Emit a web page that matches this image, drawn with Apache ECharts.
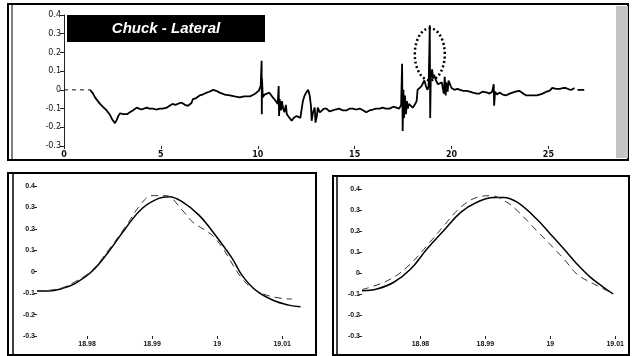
<!DOCTYPE html>
<html>
<head>
<meta charset="utf-8">
<script src="https://cdn.jsdelivr.net/npm/echarts@6/dist/echarts.min.js"></script>
<style>
  html, body { margin: 0; padding: 0; background: #fff; }
  #main { width: 633px; height: 356px; }
</style>
</head>
<body>
<div id="main"></div>
<script>
// top trace: chuck lateral, time (s) vs value
var leadT = [0, 1.35];
var leadV = [0, 0];
var latT = [1.35,1.5,1.6,1.75,1.86,2.0,2.2,2.35,2.5,2.63,2.72,2.8,2.9,2.97,3.05,3.14,3.25,3.4,3.55,3.65,3.75,3.88,4.0,4.1,4.27,4.4,4.6,4.75,4.95,5.1,5.3,5.45,5.6,5.75,5.98,6.1,6.24,6.4,6.5,6.58,6.65,6.8,7.0,7.15,7.37,7.5,7.7,7.85,8.04,8.3,8.56,8.8,9.07,9.3,9.6,9.8,9.93,10.05,10.15,10.2,10.21,10.22,10.26,10.35,10.45,10.6,10.77,10.9,11.03,11.08,11.1,11.13,11.2,11.25,11.3,11.38,11.45,11.5,11.6,11.75,11.85,12.0,12.1,12.2,12.27,12.33,12.42,12.5,12.6,12.68,12.75,12.78,12.85,12.94,12.98,13.05,13.1,13.2,13.3,13.42,13.55,13.7,13.87,14.0,14.2,14.4,14.57,14.75,14.9,15.1,15.26,15.45,15.6,15.77,15.95,16.1,16.3,16.45,16.6,16.8,17.0,17.15,17.3,17.4,17.45,17.48,17.52,17.55,17.6,17.65,17.7,17.75,17.8,18.0,18.1,18.2,18.25,18.35,18.45,18.52,18.6,18.68,18.76,18.82,18.88,18.9,18.93,19.0,19.05,19.1,19.2,19.3,19.4,19.5,19.55,19.6,19.65,19.7,19.73,19.8,19.85,19.9,20.0,20.15,20.3,20.4,20.6,20.77,20.95,21.1,21.3,21.44,21.6,21.7,21.85,21.96,22.1,22.18,22.2,22.25,22.35,22.47,22.65,22.8,23.0,23.15,23.3,23.5,23.7,23.87,24.1,24.4,24.55,24.7,24.9,25.05,25.2,25.4,25.6,25.75,25.9,26.05,26.2,26.35,26.42,26.5,26.85];
var latV = [0,-0.02,-0.04,-0.06,-0.075,-0.09,-0.11,-0.13,-0.16,-0.178,-0.16,-0.14,-0.125,-0.12,-0.13,-0.14,-0.13,-0.12,-0.11,-0.1,-0.095,-0.1,-0.105,-0.095,-0.095,-0.1,-0.1,-0.105,-0.1,-0.1,-0.095,-0.085,-0.075,-0.08,-0.07,-0.07,-0.08,-0.085,-0.09,-0.07,-0.05,-0.045,-0.03,-0.025,-0.015,-0.01,0,-0.005,-0.015,-0.025,-0.03,-0.035,-0.04,-0.035,-0.035,-0.025,-0.015,-0.005,0.02,0.155,-0.13,0.06,-0.04,-0.025,-0.035,-0.015,-0.04,-0.055,-0.075,0.02,-0.14,-0.05,-0.11,-0.06,-0.095,-0.12,-0.08,-0.13,-0.14,-0.165,-0.15,-0.14,-0.135,-0.15,-0.1,-0.06,-0.03,-0.015,0,-0.03,-0.09,-0.165,-0.12,-0.095,-0.175,-0.14,-0.095,-0.12,-0.11,-0.1,-0.1,-0.115,-0.11,-0.105,-0.1,-0.11,-0.11,-0.1,-0.1,-0.105,-0.1,-0.11,-0.12,-0.11,-0.105,-0.1,-0.1,-0.095,-0.1,-0.1,-0.09,-0.095,-0.1,-0.08,0.14,-0.22,0,-0.15,-0.03,-0.13,-0.06,-0.1,-0.075,-0.095,-0.08,-0.06,0,0.01,0.02,0.03,0.05,0.02,0,0.02,0.345,-0.15,0.06,0.11,0.06,0.08,0.05,0.03,0.02,0.04,0.05,-0.02,0.07,-0.03,0.04,-0.01,0.05,0.04,0.01,0,0.005,0,-0.005,-0.005,-0.01,-0.015,-0.02,-0.02,-0.01,-0.005,-0.015,-0.02,-0.01,0.03,-0.085,-0.01,-0.025,-0.015,-0.025,-0.03,-0.02,-0.015,-0.01,-0.005,-0.02,-0.03,-0.03,-0.03,-0.025,-0.02,-0.01,-0.005,0.01,0.005,0.005,0.01,0.01,0.003,0,0.01,null,0,0];

// zoomed event, left panel
var leftSolidT = [18.9723,18.9741,18.9762,18.9782,18.9808,18.9833,18.9859,18.9885,18.9910,18.9926,18.9946,18.9972,18.9997,19.0023,19.0038,19.0059,19.0085,19.0110,19.0128];
var leftSolidV = [-0.090,-0.090,-0.078,-0.054,0.003,0.093,0.202,0.296,0.342,0.350,0.327,0.264,0.171,0.062,-0.016,-0.086,-0.132,-0.156,-0.163];
var leftDashT = [18.9723,18.9756,18.9782,18.9808,18.9833,18.9859,18.9885,18.9900,18.9921,18.9946,18.9962,18.9997,19.0038,19.0059,19.0085,19.0115];
var leftDashV = [-0.090,-0.080,-0.046,0.008,0.101,0.210,0.324,0.355,0.355,0.288,0.233,0.156,-0.031,-0.086,-0.117,-0.128];

// zoomed event, right panel
var rightSolidT = [18.9710,18.9733,18.9759,18.9785,18.9810,18.9836,18.9862,18.9887,18.9913,18.9928,18.9949,18.9979,19.0000,19.0021,19.0041,19.0062,19.0082,19.0097];
var rightSolidV = [-0.084,-0.076,-0.044,0.019,0.114,0.202,0.289,0.337,0.360,0.360,0.337,0.257,0.186,0.114,0.043,-0.021,-0.068,-0.100];
var rightDashT = [18.9710,18.9749,18.9779,18.9810,18.9836,18.9862,18.9887,18.9908,18.9933,18.9949,18.9979,19.0021,19.0041,19.0067,19.0095];
var rightDashV = [-0.079,-0.037,0.027,0.130,0.225,0.313,0.360,0.368,0.337,0.297,0.202,0.067,-0.005,-0.052,-0.095];

var topTicks = [0, 5, 10, 15, 20, 25];
var zoomTicks = [18.98, 18.99, 19, 19.01];

function pairs(t, v) {
  return t.map(function (x, i) { return [x, v[i] === null ? '-' : v[i]]; });
}

var txt = '#111';
var topY = {
  type: 'value', min: -0.3, max: 0.4, interval: 0.1,
  axisLine: { show: true, lineStyle: { color: '#222', width: 1 } },
  axisTick: { show: true, length: 4, lineStyle: { color: '#222' } },
  splitLine: { show: false },
  axisLabel: {
    color: txt, fontSize: 8, fontFamily: 'DejaVu Sans', margin: 3,
    formatter: function (v) { v = Math.round(v * 10) / 10; return v === 0 ? '0' : v.toFixed(1); }
  }
};
function zoomY(gi) {
  return {
    gridIndex: gi, type: 'value', min: -0.3, max: 0.4, interval: 0.1,
    axisLine: { show: false },
    axisTick: { show: true, length: 3, lineStyle: { color: '#222' } },
    splitLine: { show: false },
    axisLabel: {
      color: txt, fontSize: 7, fontFamily: 'Liberation Sans', fontWeight: 'bold', margin: 2,
      formatter: function (v) { v = Math.round(v * 10) / 10; return v === 0 ? '0' : v.toFixed(1); }
    }
  };
}
function zoomX(gi, mn, mx) {
  return {
    gridIndex: gi, type: 'value', min: mn, max: mx,
    axisLine: { show: false, onZero: false },
    splitLine: { show: false },
    axisTick: { show: true, length: 3, customValues: zoomTicks, lineStyle: { color: '#222' } },
    axisLabel: {
      customValues: zoomTicks, color: txt, fontSize: 7, fontFamily: 'Liberation Sans', fontWeight: 'bold', margin: 5,
      formatter: function (v) { return String(+(+v).toFixed(2)); }
    }
  };
}

var myChart = echarts.init(document.getElementById('main'));
myChart.setOption({
  backgroundColor: '#fff',
  animation: false,
  grid: [
    { left: 64, right: 11, top: 15, bottom: 210 },
    { left: 37, right: 328, top: 186, bottom: 20 },
    { left: 362, right: 10, top: 189, bottom: 20 }
  ],
  xAxis: [
    {
      gridIndex: 0, type: 'value', min: 0, max: 28.8,
      axisLine: { show: false, onZero: false },
      splitLine: { show: false },
      axisTick: { show: true, length: 3, customValues: topTicks, lineStyle: { color: '#222' } },
      axisLabel: { customValues: topTicks, color: txt, fontSize: 8, fontWeight: 'bold', fontFamily: 'DejaVu Sans', margin: 5 }
    },
    zoomX(1, 18.9723, 19.0135),
    zoomX(2, 18.9710, 19.0112)
  ],
  yAxis: [topY, zoomY(1), zoomY(2)],
  graphic: [
    // panel frames
    { type: 'rect', shape: { x: 8, y: 4, width: 620, height: 156 }, style: { fill: null, stroke: '#000', lineWidth: 2 } },
    { type: 'line', shape: { x1: 12, y1: 5, x2: 12, y2: 159 }, style: { stroke: '#000', lineWidth: 1 } },
    { type: 'rect', shape: { x: 616, y: 6, width: 12, height: 152 }, style: { fill: '#c4c4c4' } },
    { type: 'rect', shape: { x: 8, y: 173, width: 308, height: 182 }, style: { fill: null, stroke: '#000', lineWidth: 2 } },
    { type: 'line', shape: { x1: 13, y1: 174, x2: 13, y2: 355 }, style: { stroke: '#000', lineWidth: 1.5 } },
    { type: 'rect', shape: { x: 333, y: 176, width: 296, height: 179 }, style: { fill: null, stroke: '#000', lineWidth: 2 } },
    { type: 'line', shape: { x1: 337, y1: 177, x2: 337, y2: 355 }, style: { stroke: '#000', lineWidth: 1.5 } },
    // title box
    { type: 'rect', shape: { x: 67, y: 15, width: 198, height: 27 }, style: { fill: '#000' } },
    {
      type: 'text', x: 166, y: 28.5,
      style: { text: 'Chuck - Lateral', fill: '#fff', font: 'italic bold 15px "Liberation Sans", Arial, sans-serif', align: 'center', verticalAlign: 'middle' }
    }
  ],
  series: [
    {
      type: 'line', xAxisIndex: 0, yAxisIndex: 0, data: pairs(leadT, leadV), showSymbol: false,
      lineStyle: { color: '#111', width: 1, type: [4, 4] }
    },
    {
      type: 'line', xAxisIndex: 0, yAxisIndex: 0, data: pairs(latT, latV), showSymbol: false, connectNulls: false,
      lineStyle: { color: '#000', width: 1.8 }
    },
    {
      type: 'line', xAxisIndex: 1, yAxisIndex: 1, data: pairs(leftSolidT, leftSolidV), showSymbol: false, smooth: 0.4,
      lineStyle: { color: '#000', width: 1.5 }
    },
    {
      type: 'line', xAxisIndex: 1, yAxisIndex: 1, data: pairs(leftDashT, leftDashV), showSymbol: false, smooth: 0.4,
      lineStyle: { color: '#333', width: 1, type: [7, 5] }
    },
    {
      type: 'line', xAxisIndex: 2, yAxisIndex: 2, data: pairs(rightSolidT, rightSolidV), showSymbol: false, smooth: 0.4,
      lineStyle: { color: '#000', width: 1.5 }
    },
    {
      type: 'line', xAxisIndex: 2, yAxisIndex: 2, data: pairs(rightDashT, rightDashV), showSymbol: false, smooth: 0.4,
      lineStyle: { color: '#333', width: 1, type: [7, 5] }
    }
  ]
});

// dotted ring around the largest spike
var c = myChart.convertToPixel({ gridIndex: 0 }, [18.88, 0.19]);
myChart.setOption({
  graphic: [{
    id: 'ring', type: 'ellipse',
    shape: { cx: c[0], cy: c[1], rx: 15, ry: 26 },
    style: { fill: null, stroke: '#000', lineWidth: 2.5, lineDash: [2, 2.5] }
  }]
});
</script>
</body>
</html>
